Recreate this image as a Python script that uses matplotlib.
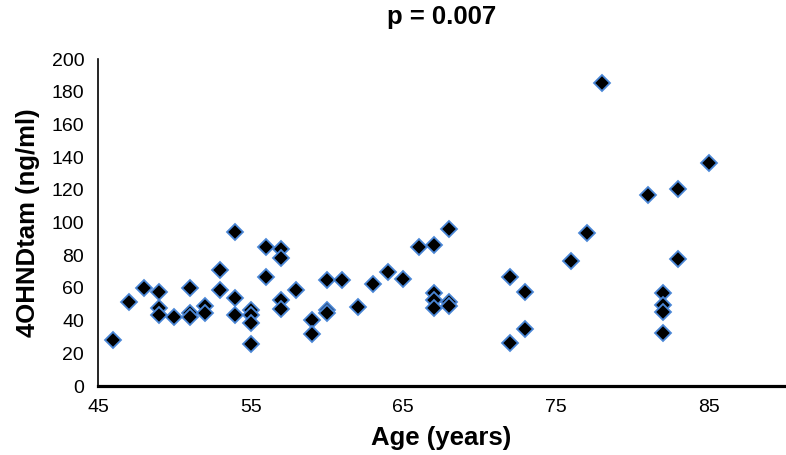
import matplotlib
matplotlib.use("Agg")
import matplotlib.pyplot as plt

plt.rcParams['font.family'] = ['Liberation Sans', 'DejaVu Sans']

age = [46, 47, 48, 49, 49, 49, 50, 51, 51, 51, 52, 52, 53, 53, 54, 54, 54,
       55, 55, 55, 55, 56, 56, 57, 57, 57, 57, 58, 59, 59, 60, 60, 60, 61,
       62, 63, 64, 65, 66, 67, 67, 67, 67, 68, 68, 68, 72, 72, 73, 73, 76,
       77, 78, 81, 82, 82, 82, 82, 83, 83, 85]
conc = [28.1, 51.2, 59.8, 57.7, 47.5, 43.4, 42.4, 59.8, 44.5, 42.4, 48.9, 44.5,
        70.9, 58.7, 94.4, 53.6, 43.4, 46.5, 43.4, 38.3, 25.5, 85.2, 66.5,
        83.6, 78.1, 52.6, 46.9, 58.7, 40.4, 31.8, 64.8, 46.5, 44.6, 64.8,
        48.5, 62.4, 69.9, 65.4, 84.8, 86.2, 56.7, 52.6, 47.5, 95.8, 51.4,
        48.9, 66.5, 26.1, 57.3, 34.7, 76.5, 93.4, 185.5, 116.8, 57.1, 49.5,
        45.4, 32.6, 120.5, 77.5, 136.6]
x_ticks = [45, 55, 65, 75, 85]
y_ticks = list(range(0, 201, 20))

fig = plt.figure(figsize=(7.86, 4.55), dpi=100)
ax = fig.add_axes([0.1247, 0.1516, 0.874, 0.7186])

ax.plot(age, conc, linestyle='none', marker='D', markersize=8.2,
        markerfacecolor='black', markeredgecolor='#4A86D6', markeredgewidth=1.3)

ax.set_xlim(45, 90)
ax.set_ylim(0, 200)
ax.set_xticks(x_ticks)
ax.set_yticks(y_ticks)
ax.tick_params(axis='both', length=0, labelsize=14, colors='black')
ax.tick_params(axis='x', pad=9.5)
ax.tick_params(axis='y', pad=10)

for s in ['top', 'right']:
    ax.spines[s].set_visible(False)
ax.spines['left'].set_linewidth(1.2)
ax.spines['bottom'].set_linewidth(2.3)

ax.set_title('p = 0.007', fontsize=18.5, fontweight='bold', pad=25)
ax.set_xlabel('Age (years)', fontsize=18.5, fontweight='bold', labelpad=7)
ax.set_ylabel('4OHNDtam (ng/ml)', fontsize=18.5, fontweight='bold', labelpad=8)

fig.savefig('out.png', dpi=100)
